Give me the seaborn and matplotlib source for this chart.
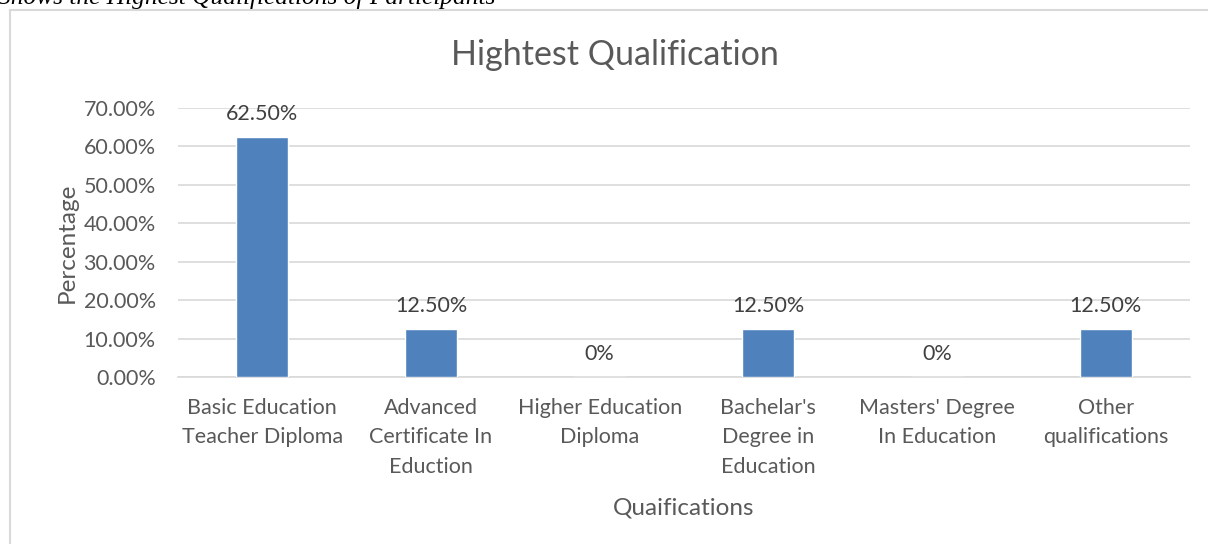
import pandas as pd
import seaborn as sns
import matplotlib.pyplot as plt
from matplotlib.patches import Rectangle

categories = [
    "Basic Education\nTeacher Diploma",
    "Advanced\nCertificate In\nEduction",
    "Higher Education\nDiploma",
    "Bachelar's\nDegree in\nEducation",
    "Masters' Degree\nIn Education",
    "Other\nqualifications",
]
percentages = [0.625, 0.125, 0.0, 0.125, 0.0, 0.125]
value_labels = ["62.50%", "12.50%", "0%", "12.50%", "0%", "12.50%"]
y_ticks = [0.0, 0.1, 0.2, 0.3, 0.4, 0.5, 0.6, 0.7]


def main():
    sns.set_style("white")
    plt.rcParams['font.family'] = ['Lato', 'DejaVu Sans']
    text_col = '#595959'
    grid_col = '#D9D9D9'

    df = pd.DataFrame({'Qualification': categories, 'Percentage': percentages})

    fig = plt.figure(figsize=(12.08, 5.44), dpi=100)
    ax = fig.add_axes([178 / 1208, 1 - 377 / 544, 1012 / 1208, 269 / 544])

    # chart frame, cut off on the right and bottom like the screenshot
    fig.patches.append(Rectangle((10 / 1208, -0.1), 1.2, (534 / 544) + 0.1,
                                 transform=fig.transFigure, fill=False,
                                 edgecolor=grid_col, linewidth=1.5, zorder=0))

    sns.barplot(x='Qualification', y='Percentage', data=df, color='#4F81BD',
                width=0.31, saturation=1, ax=ax, zorder=3)

    ax.set_ylim(0, 0.70)
    ax.set_yticks(y_ticks)
    ax.set_yticklabels([f"{t * 100:.2f}%" for t in y_ticks])
    ax.yaxis.grid(True, color=grid_col, linewidth=1.2, zorder=0)
    for s in ['top', 'right', 'left']:
        ax.spines[s].set_visible(False)
    ax.spines['bottom'].set_color(grid_col)
    ax.spines['bottom'].set_linewidth(1.2)
    ax.tick_params(axis='both', length=0, labelsize=15.5, colors=text_col)
    ax.tick_params(axis='y', pad=16)
    ax.tick_params(axis='x', pad=15)
    for lab in ax.get_xticklabels():
        lab.set_linespacing(1.6)

    for i, (v, lab) in enumerate(zip(percentages, value_labels)):
        ax.annotate(lab, (i, v), xytext=(0, 9), textcoords='offset points',
                    ha='center', va='bottom', fontsize=15.5, color='#404040')

    ax.set_xlabel('Quaifications', fontsize=17.5, color=text_col, labelpad=15)
    ax.set_ylabel('Percentage', fontsize=17.5, color=text_col, labelpad=4)

    fig.text(615 / 1208, 1 - 55 / 544, 'Hightest Qualification', ha='center',
             va='center', fontsize=24.5, color=text_col)
    fig.text(-2 / 1208, 1 - 4 / 544, 'Shows the Highest Qualifications of Participants',
             ha='left', va='baseline', fontsize=18.3, style='italic',
             family='Liberation Serif', color='black')

    fig.savefig('out.png', dpi=100)


if __name__ == "__main__":
    main()
